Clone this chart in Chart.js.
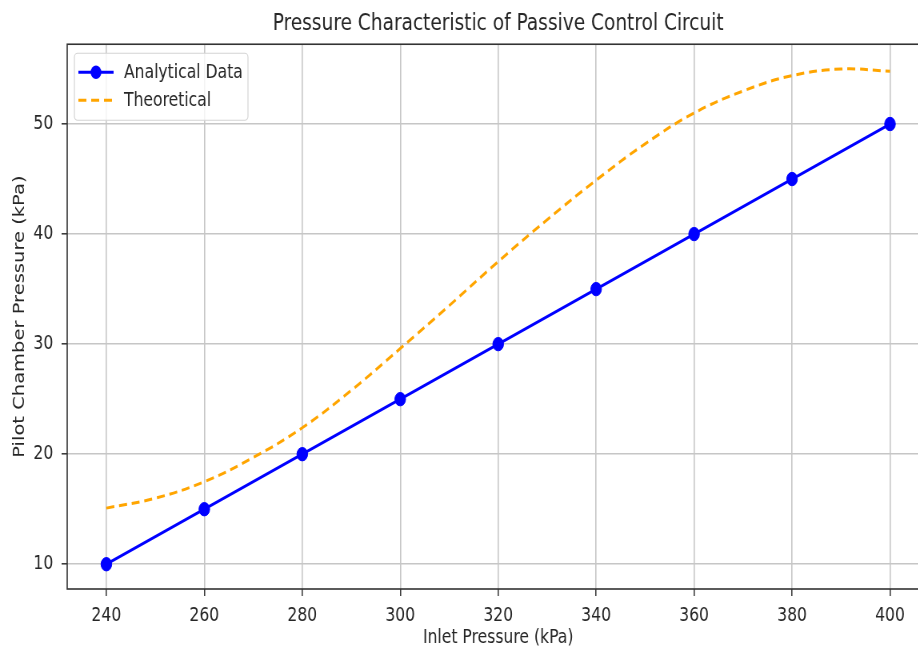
<!DOCTYPE html>
<html>
<head>
<meta charset="utf-8">
<script src="https://cdn.jsdelivr.net/npm/chart.js@4.4.1/dist/chart.umd.min.js"></script>
<style>
    html, body { margin: 0; padding: 0; background: #fff; overflow: hidden; }
    /* the figure is drawn wide and then squeezed horizontally */
    #wrap { width: 1180px; height: 650px; transform: scaleX(0.8); transform-origin: 0 0; }
</style>
</head>
<body>
<div id="wrap"><canvas id="chartPressao"></canvas></div>
<script>
// Dados medidos (analíticos)
const inletPressure = [240, 260, 280, 300, 320, 340, 360, 380, 400];
const analyticalPressure = [10, 15, 20, 25, 30, 35, 40, 45, 50];

// Curva teórica
const theoryInlet = [240, 250, 260, 270, 280, 290, 300, 310, 320, 330, 340, 350, 360, 370, 380, 390, 400];
const theoryPressure = [15.1, 16.0, 17.5, 19.7, 22.4, 25.8, 29.6, 33.5, 37.5, 41.3, 44.9, 48.2, 51.0, 53.0, 54.4, 55.0, 54.8];

// Ticks dos eixos
const xTicks = [240, 260, 280, 300, 320, 340, 360, 380, 400];
const yTicks = [10, 20, 30, 40, 50];

const textColor = '#262626';
const gridColor = '#c6c6c6';
const fonte = { family: 'DejaVu Sans', size: 19.5 };

// Moldura do gráfico e legenda dentro da área de plotagem
const molduraLegenda = {
    id: 'molduraLegenda',
    afterDatasetsDraw(chart) {
        const { ctx, chartArea } = chart;
        ctx.save();
        ctx.strokeStyle = '#333';
        ctx.lineWidth = 1.6;
        ctx.strokeRect(chartArea.left, chartArea.top, chartArea.right - chartArea.left, chartArea.bottom - chartArea.top);
        ctx.restore();
    },
    afterDraw(chart) {
        const { ctx, chartArea } = chart;
        const x0 = chartArea.left + 9;
        const y0 = chartArea.top + 9;
        const w = 217, h = 67;
        ctx.save();
        ctx.beginPath();
        ctx.roundRect(x0, y0, w, h, 4);
        ctx.fillStyle = 'rgba(255,255,255,0.8)';
        ctx.fill();
        ctx.strokeStyle = '#d4d4d4';
        ctx.lineWidth = 1.2;
        ctx.stroke();

        chart.data.datasets.forEach((ds, i) => {
            const y = y0 + 19 + i * 28;
            ctx.beginPath();
            ctx.setLineDash(ds.borderDash || []);
            ctx.strokeStyle = ds.borderColor;
            ctx.lineWidth = ds.borderWidth;
            ctx.moveTo(x0 + 5, y);
            ctx.lineTo(x0 + 49, y);
            ctx.stroke();
            ctx.setLineDash([]);
            if (ds.pointRadius > 0) {
                ctx.beginPath();
                ctx.arc(x0 + 27, y, ds.pointRadius, 0, Math.PI * 2);
                ctx.fillStyle = ds.pointBackgroundColor;
                ctx.fill();
            }
            ctx.fillStyle = textColor;
            ctx.font = `${fonte.size}px ${fonte.family}`;
            ctx.textBaseline = 'middle';
            ctx.fillText(ds.label, x0 + 62, y + 1);
        });
        ctx.restore();
    }
};

const ctx = document.getElementById('chartPressao').getContext('2d');
window.chartPressao = new Chart(ctx, {
    type: 'line',
    data: {
        datasets: [{
            label: 'Analytical Data',
            data: inletPressure.map((x, i) => ({ x, y: analyticalPressure[i] })),
            borderColor: '#0000ff',
            backgroundColor: '#0000ff',
            borderWidth: 3,
            pointRadius: 6.7,
            pointBackgroundColor: '#0000ff',
            pointBorderColor: '#0000ff',
            pointBorderWidth: 1,
            tension: 0
        }, {
            label: 'Theoretical',
            data: theoryInlet.map((x, i) => ({ x, y: theoryPressure[i] })),
            borderColor: '#ffa500',
            backgroundColor: '#ffa500',
            borderWidth: 3,
            borderDash: [10, 6],
            pointRadius: 0,
            tension: 0.4
        }]
    },
    options: {
        responsive: true,
        maintainAspectRatio: false,
        animation: false,
        layout: { padding: { left: 0, right: 18.5, top: 0, bottom: 0 } },
        plugins: {
            legend: { display: false },
            tooltip: { enabled: false },
            title: {
                display: true,
                text: 'Pressure Characteristic of Passive Control Circuit',
                color: textColor,
                font: { family: 'DejaVu Sans', size: 23.2, weight: 'normal' },
                padding: { top: 10, bottom: 6.4 },
                fullSize: false
            }
        },
        scales: {
            x: {
                type: 'linear',
                min: 232,
                max: 408,
                afterBuildTicks: s => { s.ticks = xTicks.map(v => ({ value: v })); },
                afterFit: s => { s.height = 61; },
                ticks: { color: textColor, font: fonte, padding: 8, maxRotation: 0 },
                grid: { color: gridColor, lineWidth: 1.6, tickLength: 7, tickColor: '#333', tickWidth: 1.5 },
                border: { display: false },
                title: {
                    display: true,
                    text: 'Inlet Pressure (kPa)',
                    color: textColor,
                    font: fonte,
                    padding: { top: 0, bottom: 0 }
                }
            },
            y: {
                min: 7.75,
                max: 57.25,
                afterBuildTicks: s => { s.ticks = yTicks.map(v => ({ value: v })); },
                afterFit: s => { s.width = 84; },
                ticks: { color: textColor, font: fonte, padding: 10.4 },
                grid: { color: gridColor, lineWidth: 1.6, tickLength: 7, tickColor: '#333', tickWidth: 1.5 },
                border: { display: false },
                title: {
                    display: true,
                    text: 'Pilot Chamber Pressure (kPa)',
                    color: textColor,
                    font: fonte,
                    padding: { top: 13.3, bottom: 0 }
                }
            }
        }
    },
    plugins: [molduraLegenda]
});
</script>
</body>
</html>
